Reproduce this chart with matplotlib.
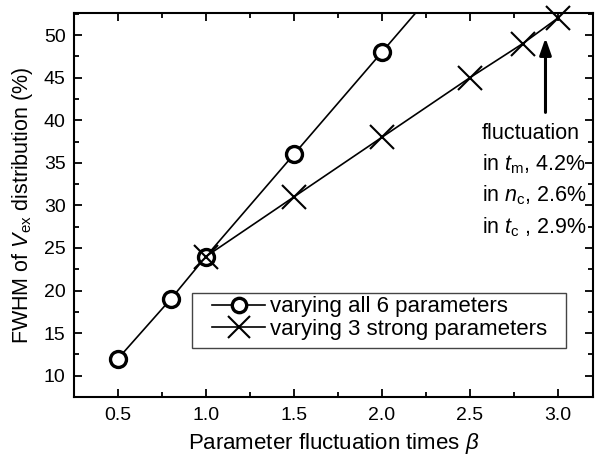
import matplotlib
matplotlib.use("Agg")
import matplotlib.pyplot as plt
from matplotlib.ticker import MultipleLocator
from matplotlib.patches import Rectangle

plt.rcParams['font.family'] = ['Liberation Sans', 'DejaVu Sans']
plt.rcParams['mathtext.fontset'] = 'custom'
plt.rcParams['mathtext.rm'] = 'Liberation Sans'
plt.rcParams['mathtext.it'] = 'Liberation Sans:italic'
plt.rcParams['mathtext.bf'] = 'Liberation Sans:bold'

# data
beta_all = [0.5, 0.8, 1.0, 1.5, 2.0, 2.5]
fwhm_all = [12, 19, 24, 36, 48, 60]
beta_strong = [1.0, 1.5, 2.0, 2.5, 2.8, 3.0]
fwhm_strong = [24, 31, 38, 45, 49, 52]
label_all = 'varying all 6 parameters'
label_strong = 'varying 3 strong parameters'
xticks = [0.5, 1.0, 1.5, 2.0, 2.5, 3.0]
yticks = [10, 15, 20, 25, 30, 35, 40, 45, 50]

fig = plt.figure(figsize=(6.03, 4.58), dpi=100)
ax = fig.add_axes([0.1227, 0.1332, 0.8607, 0.8384])

ax.plot(beta_all, fwhm_all, color='black', lw=1.2, marker='o', ms=11.5,
        mfc='white', mec='black', mew=2.4, label=label_all, clip_on=True)
ax.plot(beta_strong, fwhm_strong, color='black', lw=1.2, marker='x', ms=17,
        mew=1.5, label=label_strong, clip_on=False)

ax.set_xlim(0.25, 3.2)
ax.set_ylim(7.5, 52.6)
ax.set_xticks(xticks)
ax.set_xticklabels([f'{v:.1f}' for v in xticks])
ax.set_yticks(yticks)
ax.xaxis.set_minor_locator(MultipleLocator(0.25))
ax.yaxis.set_minor_locator(MultipleLocator(2.5))
ax.tick_params(which='both', direction='in', top=True, right=True, labelsize=14, width=1.3)
ax.tick_params(which='major', length=6)
ax.tick_params(which='minor', length=3.5)
ax.tick_params(axis='x', pad=7)
ax.tick_params(axis='y', pad=6)
for s in ax.spines.values():
    s.set_linewidth(1.5)

ax.set_xlabel(r'Parameter fluctuation times $\beta$', fontsize=16, labelpad=5)
ax.set_ylabel(r'FWHM of $V_{\mathrm{ex}}$ distribution (%)', fontsize=15.5, labelpad=6)

leg = ax.legend(loc='upper left', bbox_to_anchor=(0.2659, 0.262), fontsize=16,
                frameon=False, handlelength=2.4,
                handletextpad=0.22, borderpad=0.0, labelspacing=0.08, borderaxespad=0,
                markerscale=0.9)
ax.add_patch(Rectangle((0.2274, 0.1276), 0.948 - 0.2274, 0.2708 - 0.1276,
                       transform=ax.transAxes, fill=False, edgecolor='#444444',
                       lw=1.0, zorder=5))

ax.annotate('', xy=(2.93, 50.0), xytext=(2.93, 40.6),
            arrowprops=dict(arrowstyle='-|>,head_width=0.35,head_length=1.0', color='black', lw=2.2))
fs = 15.5
ax.text(2.57, 38.5, 'fluctuation', fontsize=fs, va='center', ha='left')
ax.text(2.57, 34.9, r'in $t_{\mathrm{m}}$, 4.2%', fontsize=fs, va='center', ha='left')
ax.text(2.57, 31.2, r'in $n_{\mathrm{c}}$, 2.6%', fontsize=fs, va='center', ha='left')
ax.text(2.57, 27.4, r'in $t_{\mathrm{c}}$ , 2.9%', fontsize=fs, va='center', ha='left')

fig.savefig('out.png', dpi=100)
